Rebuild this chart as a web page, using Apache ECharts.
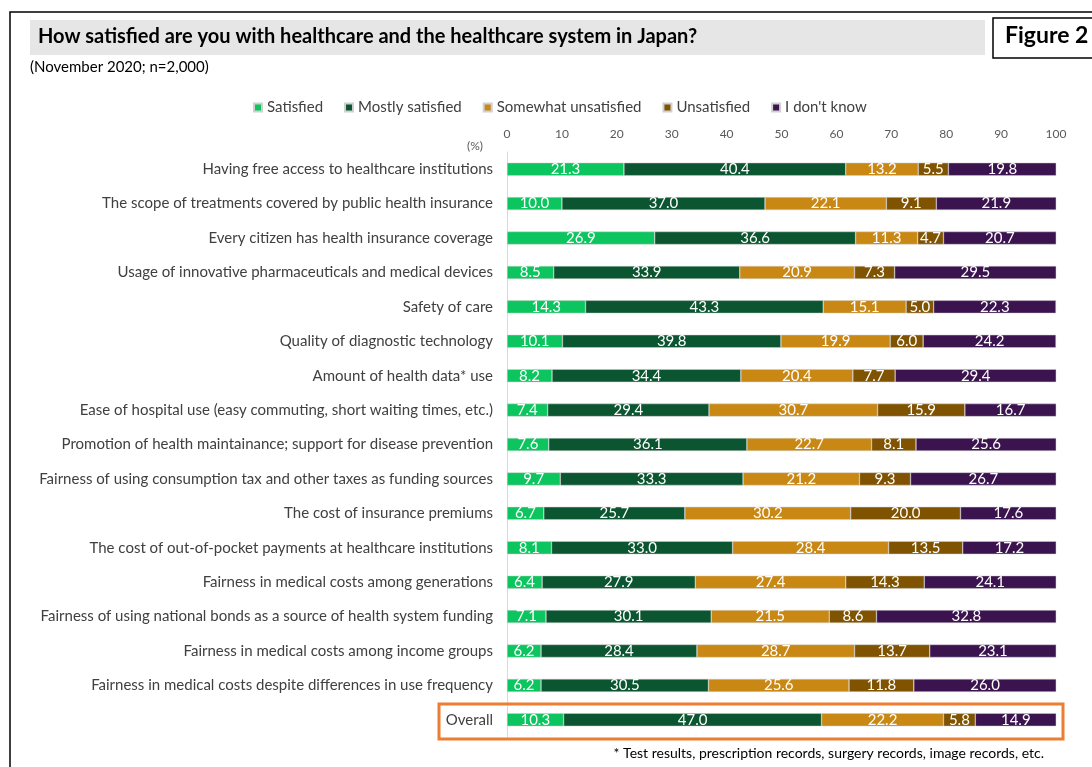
<!DOCTYPE html>
<html>
<head>
    <meta charset="utf-8">
    <title>Healthcare satisfaction</title>
    <script src="https://cdn.jsdelivr.net/npm/echarts@6/dist/echarts.min.js"></script>
</head>
<style>
html,
body {
    margin: 0px;
    width: 100%;
    height: 100%;
    background: #fff;
}
div#main {
    width: 1092px;
    height: 767px;
}
</style>
<body>
    <div id="main"></div>
    <script type="text/javascript">
        var categories = [
            'Having free access to healthcare institutions',
            'The scope of treatments covered by public health insurance',
            'Every citizen has health insurance coverage',
            'Usage of innovative pharmaceuticals and medical devices',
            'Safety of care',
            'Quality of diagnostic technology',
            'Amount of health data* use',
            'Ease of hospital use (easy commuting, short waiting times, etc.)',
            'Promotion of health maintainance; support for disease prevention',
            'Fairness of using consumption tax and other taxes as funding sources',
            'The cost of insurance premiums',
            'The cost of out-of-pocket payments at healthcare institutions',
            'Fairness in medical costs among generations',
            'Fairness of using national bonds as a source of health system funding',
            'Fairness in medical costs among income groups',
            'Fairness in medical costs despite differences in use frequency',
            'Overall'
        ];
        var satisfied      = [21.3, 10.0, 26.9, 8.5, 14.3, 10.1, 8.2, 7.4, 7.6, 9.7, 6.7, 8.1, 6.4, 7.1, 6.2, 6.2, 10.3];
        var mostlySat      = [40.4, 37.0, 36.6, 33.9, 43.3, 39.8, 34.4, 29.4, 36.1, 33.3, 25.7, 33.0, 27.9, 30.1, 28.4, 30.5, 47.0];
        var somewhatUnsat  = [13.2, 22.1, 11.3, 20.9, 15.1, 19.9, 20.4, 30.7, 22.7, 21.2, 30.2, 28.4, 27.4, 21.5, 28.7, 25.6, 22.2];
        var unsatisfied    = [5.5, 9.1, 4.7, 7.3, 5.0, 6.0, 7.7, 15.9, 8.1, 9.3, 20.0, 13.5, 14.3, 8.6, 13.7, 11.8, 5.8];
        var dontKnow       = [19.8, 21.9, 20.7, 29.5, 22.3, 24.2, 29.4, 16.7, 25.6, 26.7, 17.6, 17.2, 24.1, 32.8, 23.1, 26.0, 14.9];

        var seriesNames = ['Satisfied', 'Mostly satisfied', 'Somewhat unsatisfied', 'Unsatisfied', "I don't know"];
        var seriesData = [satisfied, mostlySat, somewhatUnsat, unsatisfied, dontKnow];
        var colors = ['#0cc55f', '#0b5631', '#c98814', '#7f5300', '#3b144f'];

        var font = 'Lato, "Open Sans", sans-serif';

        var myChart = echarts.init(document.getElementById('main'));

        var series = seriesNames.map(function (name, i) {
            return {
                name: name,
                type: 'bar',
                stack: 'total',
                barWidth: 13,
                data: seriesData[i],
                itemStyle: { color: colors[i], borderColor: '#d0d0d0', borderWidth: 0.5 },
                label: {
                    show: true,
                    position: 'inside',
                    color: '#fff',
                    fontSize: 15,
                    fontFamily: font,
                    formatter: function (p) { return p.value.toFixed(1); }
                }
            };
        });

        myChart.setOption({
            animation: false,
            color: colors,
            textStyle: { fontFamily: font },
            legend: {
                top: 95,
                left: 248,
                itemWidth: 8,
                itemHeight: 8,
                itemGap: 21,
                icon: 'rect',
                textStyle: { fontSize: 15, color: '#404040', fontFamily: font },
                data: seriesNames
            },
            grid: { left: 507, right: 36, top: 152, bottom: 30 },
            xAxis: {
                type: 'value',
                position: 'top',
                min: 0,
                max: 100,
                interval: 10,
                splitLine: { show: false },
                axisLine: { show: false },
                axisTick: { show: false },
                axisLabel: { color: '#595959', fontSize: 12, margin: 12 }
            },
            yAxis: {
                type: 'category',
                inverse: true,
                data: categories,
                axisLine: { show: true, lineStyle: { color: '#d9d9d9' } },
                axisTick: { show: false },
                axisLabel: { color: '#404040', fontSize: 15, margin: 14, fontFamily: font }
            },
            series: series,
            graphic: [
                { type: 'rect', shape: { x: 10, y: 12, width: 1100, height: 800 }, style: { fill: 'none', stroke: '#000', lineWidth: 1.5 }, z: -1 },
                { type: 'rect', shape: { x: 30, y: 20, width: 955, height: 35 }, style: { fill: '#e6e6e6' }, z: -1 },
                { type: 'text', left: 38, top: 27, style: { text: 'How satisfied are you with healthcare and the healthcare system in Japan?', font: 'bold 20px ' + font, fill: '#000' } },
                { type: 'rect', shape: { x: 993, y: 18, width: 110, height: 40 }, style: { fill: '#fff', stroke: '#000', lineWidth: 1.5 } },
                { type: 'text', left: 1005, top: 24, style: { text: 'Figure 2', font: 'bold 23px ' + font, fill: '#000' } },
                { type: 'text', left: 30, top: 60, style: { text: '(November 2020; n=2,000)', font: '15px ' + font, fill: '#000' } },
                { type: 'text', left: 467, top: 140, style: { text: '(%)', font: '12px ' + font, fill: '#595959' } },
                { type: 'rect', shape: { x: 439, y: 704, width: 624, height: 35 }, style: { fill: 'none', stroke: '#ed7d31', lineWidth: 3 }, z: 10 },
                { type: 'text', right: 48, top: 746, style: { text: '* Test results, prescription records, surgery records, image records, etc.', font: '14px ' + font, fill: '#000' } }
            ]
        });
    </script>
</body>
</html>
